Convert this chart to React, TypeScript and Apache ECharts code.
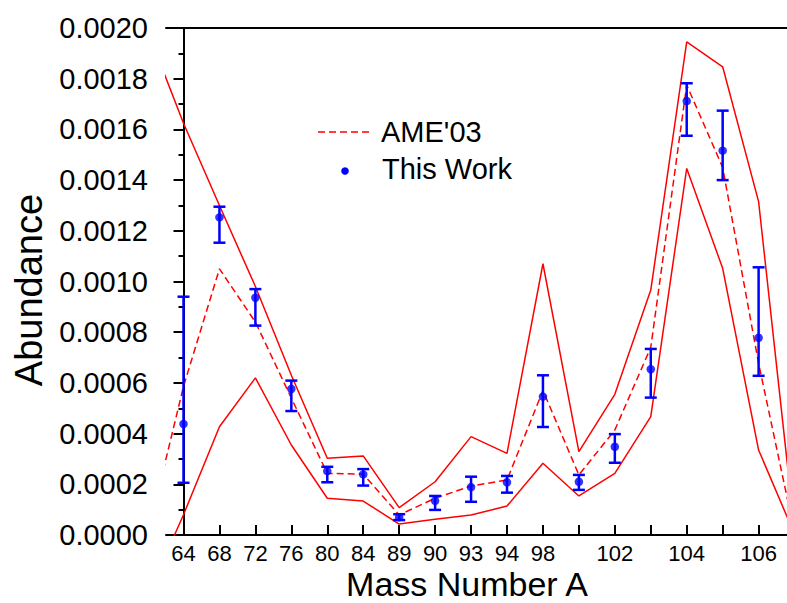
import React, { useEffect, useRef } from "react";
import * as echarts from "echarts";

// x tick labels (one per measured point, index 0..16)
const categories = ["64", "68", "72", "76", "80", "84", "89", "90", "93", "94", "98", "", "102", "", "104", "", "106"];

// AME'03 band: indices -1..17 (outer points are clipped by the plot area)
const lineIndex = [-1, 0, 1, 2, 3, 4, 5, 6, 7, 8, 9, 10, 11, 12, 13, 14, 15, 16, 17];
const ameUpper = [0.00199, 0.001624, 0.0013, 0.00098, 0.00063, 0.000303, 0.000312, 0.000108, 0.00021, 0.000388, 0.000322, 0.00107, 0.000329, 0.000555, 0.000966, 0.001945, 0.001847, 0.001315, 0.00002];
const ameMid = [0.0, 0.000586, 0.00105, 0.00084, 0.00054, 0.000243, 0.00024, 0.000079, 0.000145, 0.000193, 0.000217, 0.00057, 0.000237, 0.000414, 0.00074, 0.001775, 0.00145, 0.000677, 0.00001];
const ameLower = [-0.00024, 0.00008, 0.000427, 0.00062, 0.000355, 0.000145, 0.000134, 0.000043, 0.000062, 0.000079, 0.000114, 0.000283, 0.000154, 0.000243, 0.000467, 0.001446, 0.001052, 0.000335, 0.000003];

// This Work: value with error bar limits, indices 0..16
const twValue = [0.000438, 0.001253, 0.000936, 0.000576, 0.000252, 0.000239, 0.00007, 0.000135, 0.000189, 0.000208, 0.000546, 0.00021, 0.000348, 0.000654, 0.001712, 0.001516, 0.000778];
const twLow = [0.000206, 0.001153, 0.000826, 0.000489, 0.000208, 0.000195, 0.000059, 0.000099, 0.000131, 0.000167, 0.000426, 0.000178, 0.000285, 0.000542, 0.001575, 0.0014, 0.000628];
const twHigh = [0.00094, 0.001295, 0.00097, 0.000609, 0.000269, 0.00026, 0.000082, 0.000154, 0.00023, 0.000233, 0.00063, 0.000237, 0.000398, 0.000734, 0.001782, 0.001674, 0.001056];

const yTicks = [0, 0.0002, 0.0004, 0.0006, 0.0008, 0.001, 0.0012, 0.0014, 0.0016, 0.0018, 0.002];

const FONT = "'Liberation Sans', Arial, Helvetica, sans-serif";
const RED = "#ff0000";
const BLUE = "#0000ff";

export default function App() {
  const ref = useRef<HTMLDivElement>(null);

  useEffect(() => {
    if (!ref.current) return;
    const chart = echarts.init(ref.current, undefined, { renderer: "svg" });
    const tickIdx = categories.map((_, i) => i);
    const pair = (arr: number[]) => arr.map((v, i) => [lineIndex[i], v]);

    const option: any = {
      animation: false,
      backgroundColor: "#ffffff",
      grid: { left: 166, top: 28, right: 0, bottom: 68, containLabel: false },
      xAxis: [
        {
          type: "value",
          min: -0.487,
          max: 16.79,
          axisLine: { show: true, onZero: false, lineStyle: { color: "#000", width: 2 } },
          axisTick: { show: true, inside: true, length: 10, customValues: tickIdx, lineStyle: { color: "#000", width: 2 } },
          axisLabel: {
            show: true,
            customValues: tickIdx,
            margin: 7,
            fontSize: 22,
            fontFamily: FONT,
            color: "#000",
            formatter: (v: number) => categories[Math.round(v)] ?? "",
          },
          splitLine: { show: false },
        },
        {
          type: "value",
          position: "top",
          min: -0.487,
          max: 16.79,
          axisLine: { show: true, onZero: false, lineStyle: { color: "#000", width: 2 } },
          axisTick: { show: false },
          axisLabel: { show: false },
          splitLine: { show: false },
        },
      ],
      yAxis: {
        type: "value",
        min: 0,
        max: 0.002,
        interval: 0.0002,
        axisLine: { show: true, lineStyle: { color: "#000", width: 2 } },
        axisTick: { show: true, length: 10, lineStyle: { color: "#000", width: 2 } },
        minorTick: { show: true, splitNumber: 2, length: 5, lineStyle: { color: "#000", width: 2 } },
        axisLabel: {
          margin: 18,
          fontSize: 29,
          fontFamily: FONT,
          color: "#000",
          formatter: (v: number) => {
            const t = yTicks.find((k) => Math.abs(k - v) < 1e-9);
            return (t ?? v).toFixed(4);
          },
        },
        splitLine: { show: false },
      },
      series: [
        {
          type: "line",
          name: "upper",
          data: pair(ameUpper),
          symbol: "none",
          clip: true,
          lineStyle: { color: RED, width: 1.5 },
          z: 2,
        },
        {
          type: "line",
          name: "lower",
          data: pair(ameLower),
          symbol: "none",
          clip: true,
          lineStyle: { color: RED, width: 1.5 },
          z: 2,
        },
        {
          type: "line",
          name: "AME'03",
          data: pair(ameMid),
          symbol: "none",
          clip: true,
          lineStyle: { color: RED, width: 1.5, type: [7, 4] },
          z: 2,
        },
        {
          type: "custom",
          name: "errors",
          data: twValue.map((_, i) => [i, twLow[i], twHigh[i]]),
          renderItem: (params: any, api: any) => {
            const i = api.value(0);
            const lo = api.coord([i, api.value(1)]);
            const hi = api.coord([i, api.value(2)]);
            const w = 6;
            const st = { stroke: BLUE, lineWidth: 2.5 };
            return {
              type: "group",
              children: [
                { type: "line", shape: { x1: lo[0], y1: lo[1], x2: hi[0], y2: hi[1] }, style: st },
                { type: "line", shape: { x1: lo[0] - w, y1: lo[1], x2: lo[0] + w, y2: lo[1] }, style: st },
                { type: "line", shape: { x1: hi[0] - w, y1: hi[1], x2: hi[0] + w, y2: hi[1] }, style: st },
              ],
            };
          },
          z: 3,
        },
        {
          type: "scatter",
          name: "This Work",
          data: twValue.map((v, i) => [i, v]),
          symbol: "circle",
          symbolSize: 8.5,
          itemStyle: { color: BLUE },
          z: 4,
        },
      ],
      graphic: [
        {
          type: "line",
          shape: { x1: 318, y1: 132, x2: 373, y2: 132 },
          style: { stroke: RED, lineWidth: 1.5, lineDash: [7, 4] },
        },
        {
          type: "text",
          x: 381,
          y: 132,
          style: { text: "AME'03", font: `29px ${FONT}`, fill: "#000", textAlign: "left", textVerticalAlign: "middle" },
        },
        {
          type: "circle",
          shape: { cx: 345, cy: 171, r: 3.8 },
          style: { fill: BLUE },
        },
        {
          type: "text",
          x: 382,
          y: 169,
          style: { text: "This Work", font: `29px ${FONT}`, fill: "#000", textAlign: "left", textVerticalAlign: "middle" },
        },
        {
          type: "text",
          x: 467,
          y: 584,
          style: { text: "Mass Number A", font: `34px ${FONT}`, fill: "#000", textAlign: "center", textVerticalAlign: "middle" },
        },
        {
          type: "text",
          x: 29,
          y: 290,
          rotation: Math.PI / 2,
          style: { text: "Abundance", font: `38px ${FONT}`, fill: "#000", textAlign: "center", textVerticalAlign: "middle" },
        },
      ],
    };

    chart.setOption(option);
    return () => chart.dispose();
  }, []);

  return (
    <div
      ref={ref}
      style={{ position: "fixed", left: 0, top: 0, width: 787, height: 603, background: "#fff" }}
    />
  );
}
